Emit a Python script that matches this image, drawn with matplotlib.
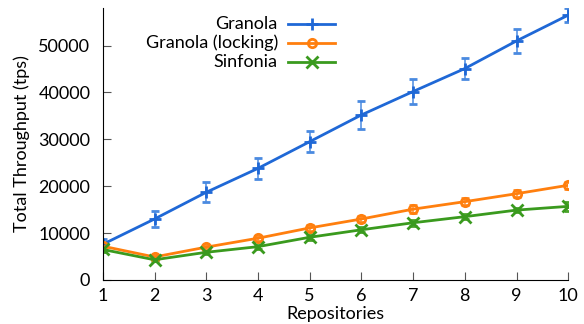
import matplotlib
matplotlib.use('Agg')
from matplotlib import pyplot as plt
from matplotlib.lines import Line2D

plt.rcParams['font.family'] = ['Lato', 'DejaVu Sans']

repos = [1, 2, 3, 4, 5, 6, 7, 8, 9, 10]

granola = [7600, 13000, 18700, 23800, 29500, 35200, 40200, 45100, 51000, 56500]
granola_err = [1200, 1800, 2100, 2300, 2200, 3000, 2700, 2300, 2500, 1500]

locking = [7200, 4900, 7000, 8900, 11100, 13000, 15100, 16700, 18400, 20200]
locking_err = [600, 400, 400, 500, 700, 600, 900, 700, 700, 700]

sinfonia = [6500, 4300, 5900, 7100, 9100, 10700, 12200, 13500, 14900, 15700]
sinfonia_err = [600, 300, 300, 400, 500, 500, 600, 500, 500, 900]

labels = ['Granola', 'Granola (locking)', 'Sinfonia']
colors = ['#1f68d6', '#ff7f0e', '#3a9a1e']
err_colors = ['#4a8ae0', '#ff8f2e', '#4aa52a']
markers = ['+', 'o', 'x']
msizes = [9, 6, 8]

fig = plt.figure(figsize=(5.84, 3.24), dpi=100)
ax = fig.add_axes([0.176, 0.136, 0.797, 0.839])

series = [(granola, granola_err), (locking, locking_err), (sinfonia, sinfonia_err)]
for (vals, errs), lab, c, ec, m, ms in zip(series, labels, colors, err_colors, markers, msizes):
    ax.errorbar(repos, vals, yerr=errs, color=c, marker=m, ms=ms, mew=2,
                mfc='none', lw=2, capsize=3, elinewidth=1.1, ecolor=ec, capthick=1.1)

ax.set_xlim(1, 10)
ax.set_ylim(0, 58000)
ax.set_xticks(repos)
ax.set_yticks([0, 10000, 20000, 30000, 40000, 50000])
ax.spines['top'].set_visible(False)
ax.spines['right'].set_visible(False)
ax.tick_params(direction='in', labelsize=13, length=6, color='#555555')
ax.tick_params(axis='x', pad=6)
ax.tick_params(axis='y', pad=9)
ax.set_xlabel('Repositories', fontsize=13, labelpad=1)
ax.set_ylabel('Total Throughput (tps)', fontsize=13, labelpad=6)

# legend drawn by hand: right-aligned labels, line sample on the right
rows = [0.941, 0.871, 0.801]
for y, lab, c, m, ms in zip(rows, labels, colors, markers, msizes):
    ax.text(0.376, y, lab, transform=ax.transAxes, ha='right', va='center', fontsize=13)
    ax.add_line(Line2D([0.398, 0.499], [y, y], transform=ax.transAxes, color=c, lw=2,
                       clip_on=False))
    ax.add_line(Line2D([0.449], [y], transform=ax.transAxes, color=c, marker=m, ms=ms,
                       mew=2, mfc='none', clip_on=False))

plt.savefig('out.png', dpi=100)
